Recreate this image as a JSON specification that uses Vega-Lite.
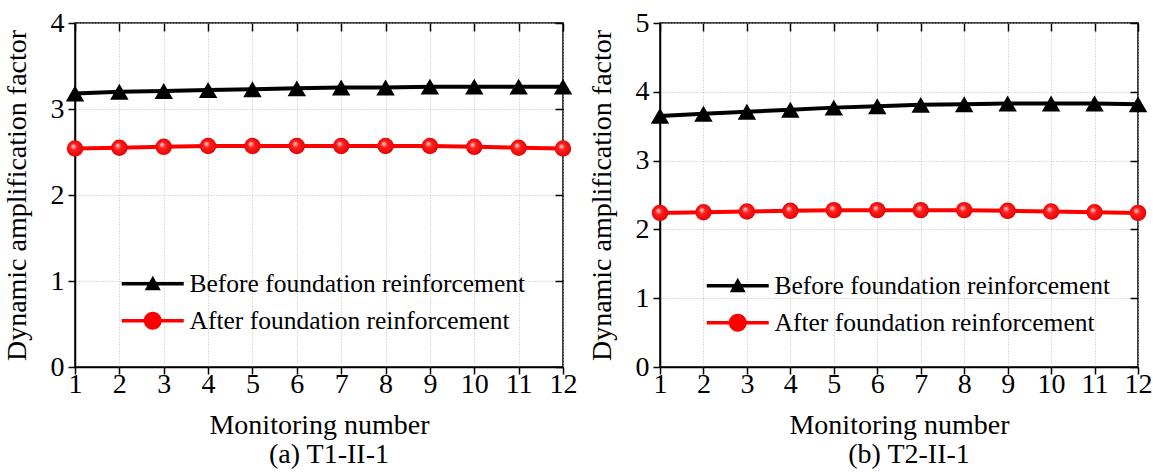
{
  "$schema": "https://vega.github.io/schema/vega-lite/v6.json",
  "background": "white",
  "padding": {"left": 2, "top": 8, "right": 0, "bottom": 0},
  "datasets": {
    "a": [
      {"n": 1, "series": "Before foundation reinforcement", "value": 3.18},
      {"n": 2, "series": "Before foundation reinforcement", "value": 3.2},
      {"n": 3, "series": "Before foundation reinforcement", "value": 3.21},
      {"n": 4, "series": "Before foundation reinforcement", "value": 3.22},
      {"n": 5, "series": "Before foundation reinforcement", "value": 3.23},
      {"n": 6, "series": "Before foundation reinforcement", "value": 3.24},
      {"n": 7, "series": "Before foundation reinforcement", "value": 3.25},
      {"n": 8, "series": "Before foundation reinforcement", "value": 3.25},
      {"n": 9, "series": "Before foundation reinforcement", "value": 3.26},
      {"n": 10, "series": "Before foundation reinforcement", "value": 3.26},
      {"n": 11, "series": "Before foundation reinforcement", "value": 3.26},
      {"n": 12, "series": "Before foundation reinforcement", "value": 3.26},
      {"n": 1, "series": "After foundation reinforcement", "value": 2.54},
      {"n": 2, "series": "After foundation reinforcement", "value": 2.55},
      {"n": 3, "series": "After foundation reinforcement", "value": 2.56},
      {"n": 4, "series": "After foundation reinforcement", "value": 2.57},
      {"n": 5, "series": "After foundation reinforcement", "value": 2.57},
      {"n": 6, "series": "After foundation reinforcement", "value": 2.57},
      {"n": 7, "series": "After foundation reinforcement", "value": 2.57},
      {"n": 8, "series": "After foundation reinforcement", "value": 2.57},
      {"n": 9, "series": "After foundation reinforcement", "value": 2.57},
      {"n": 10, "series": "After foundation reinforcement", "value": 2.56},
      {"n": 11, "series": "After foundation reinforcement", "value": 2.55},
      {"n": 12, "series": "After foundation reinforcement", "value": 2.54}
    ],
    "b": [
      {"n": 1, "series": "Before foundation reinforcement", "value": 3.65},
      {"n": 2, "series": "Before foundation reinforcement", "value": 3.68},
      {"n": 3, "series": "Before foundation reinforcement", "value": 3.71},
      {"n": 4, "series": "Before foundation reinforcement", "value": 3.74},
      {"n": 5, "series": "Before foundation reinforcement", "value": 3.77},
      {"n": 6, "series": "Before foundation reinforcement", "value": 3.79},
      {"n": 7, "series": "Before foundation reinforcement", "value": 3.81},
      {"n": 8, "series": "Before foundation reinforcement", "value": 3.82},
      {"n": 9, "series": "Before foundation reinforcement", "value": 3.83},
      {"n": 10, "series": "Before foundation reinforcement", "value": 3.83},
      {"n": 11, "series": "Before foundation reinforcement", "value": 3.83},
      {"n": 12, "series": "Before foundation reinforcement", "value": 3.82},
      {"n": 1, "series": "After foundation reinforcement", "value": 2.24},
      {"n": 2, "series": "After foundation reinforcement", "value": 2.25},
      {"n": 3, "series": "After foundation reinforcement", "value": 2.26},
      {"n": 4, "series": "After foundation reinforcement", "value": 2.27},
      {"n": 5, "series": "After foundation reinforcement", "value": 2.28},
      {"n": 6, "series": "After foundation reinforcement", "value": 2.28},
      {"n": 7, "series": "After foundation reinforcement", "value": 2.28},
      {"n": 8, "series": "After foundation reinforcement", "value": 2.28},
      {"n": 9, "series": "After foundation reinforcement", "value": 2.27},
      {"n": 10, "series": "After foundation reinforcement", "value": 2.26},
      {"n": 11, "series": "After foundation reinforcement", "value": 2.25},
      {"n": 12, "series": "After foundation reinforcement", "value": 2.24}
    ]
  },
  "bounds": "flush",
  "spacing": 97,
  "resolve": {"scale": {"color": "independent", "x": "independent", "y": "independent"}, "legend": {"color": "independent"}},
  "hconcat": [
    {
      "width": 488,
      "height": 344,
      "data": {"name": "a"},
      "title": {"text": "(a) T1-II-1", "orient": "bottom", "anchor": "middle", "dx": 10, "offset": 2},
      "layer": [
        {
          "encoding": {
            "x": {"field": "n", "type": "quantitative", "scale": {"domain": [1, 12], "nice": false, "zero": false},
                  "axis": {"values": [1,2,3,4,5,6,7,8,9,10,11,12], "title": "Monitoring number", "titleY": 66, "titleBaseline": "alphabetic", "grid": true}},
            "y": {"field": "value", "type": "quantitative", "scale": {"domain": [0, 4], "nice": false},
                  "axis": {"values": [0,1,2,3,4], "format": "d", "title": "Dynamic amplification factor", "titleX": -50, "titleBaseline": "alphabetic", "grid": true}}
          },
          "layer": [
            {
              "mark": {"type": "line", "strokeWidth": 4},
              "encoding": {
                "color": {"field": "series", "type": "nominal",
                  "scale": {"domain": ["Before foundation reinforcement", "After foundation reinforcement"], "range": ["black", "red"]},
                  "legend": {"orient": "none", "legendX": 65, "legendY": 248, "title": null, "padding": 0, "labelLimit": 0,
                    "labelFont": "Liberation Serif", "labelFontSize": 25.5, "labelColor": "black", "symbolSize": 400, "labelOffset": 24, "rowPadding": 10,
                    "encode": {"symbols": {"update": {
                      "shape": {"signal": "datum.value === 'Before foundation reinforcement' ? 'M-3.1,-0.18H3.1V0.18H-3.1Z M-0.8,0.65L0,-0.8L0.8,0.65Z' : 'M-3.1,-0.18H3.1V0.18H-3.1Z M-0.9,0A0.9,0.9 0 1,1 0.9,0A0.9,0.9 0 1,1 -0.9,0Z'"},
                      "fill": {"signal": "datum.value === 'Before foundation reinforcement' ? 'black' : 'red'"},
                      "stroke": {"value": "transparent"},
                      "strokeWidth": {"value": 0},
                      "opacity": {"value": 1}
                    }}}}
                }
              }
            },
            {
              "transform": [{"filter": "datum.series === 'Before foundation reinforcement'"}],
              "mark": {"type": "point", "shape": "triangle-up", "filled": true, "color": "black", "size": 340, "opacity": 1}
            },
            {
              "transform": [{"filter": "datum.series === 'After foundation reinforcement'"}],
              "mark": {"type": "circle", "size": 270, "opacity": 1,
                "fill": {"gradient": "radial", "x1": 0.38, "y1": 0.35, "r1": 0, "x2": 0.5, "y2": 0.5, "r2": 0.55,
                  "stops": [{"offset": 0, "color": "#ffe8e8"}, {"offset": 0.35, "color": "#ff2020"}, {"offset": 1, "color": "#e00000"}]}}
            }
          ]
        },
        {
          "mark": {"type": "point", "opacity": 0},
          "encoding": {
            "x": {"field": "n", "type": "quantitative", "scale": {"domain": [1, 12], "nice": false, "zero": false},
                  "axis": {"orient": "top", "values": [1,2,3,4,5,6,7,8,9,10,11,12], "labels": false, "title": null, "grid": false, "domain": false, "tickSize": 8, "offset": -8}},
            "y": {"field": "value", "type": "quantitative", "scale": {"domain": [0, 4], "nice": false},
                  "axis": {"orient": "right", "values": [0,1,2,3,4], "labels": false, "title": null, "grid": false, "domain": false, "tickSize": 8, "offset": -8}}
          }
        }
      ],
      "resolve": {"axis": {"x": "independent", "y": "independent"}}
    },
    {
      "width": 478,
      "height": 344,
      "data": {"name": "b"},
      "title": {"text": "(b) T2-II-1", "orient": "bottom", "anchor": "middle", "dx": 10, "offset": 2},
      "layer": [
        {
          "encoding": {
            "x": {"field": "n", "type": "quantitative", "scale": {"domain": [1, 12], "nice": false, "zero": false},
                  "axis": {"values": [1,2,3,4,5,6,7,8,9,10,11,12], "title": "Monitoring number", "titleY": 66, "titleBaseline": "alphabetic", "grid": true}},
            "y": {"field": "value", "type": "quantitative", "scale": {"domain": [0, 5], "nice": false},
                  "axis": {"values": [0,1,2,3,4,5], "format": "d", "title": "Dynamic amplification factor", "titleX": -50, "titleBaseline": "alphabetic", "grid": true}}
          },
          "layer": [
            {
              "mark": {"type": "line", "strokeWidth": 4},
              "encoding": {
                "color": {"field": "series", "type": "nominal",
                  "scale": {"domain": ["Before foundation reinforcement", "After foundation reinforcement"], "range": ["black", "red"]},
                  "legend": {"orient": "none", "legendX": 65, "legendY": 250, "title": null, "padding": 0, "labelLimit": 0,
                    "labelFont": "Liberation Serif", "labelFontSize": 25.5, "labelColor": "black", "symbolSize": 400, "labelOffset": 24, "rowPadding": 10,
                    "encode": {"symbols": {"update": {
                      "shape": {"signal": "datum.value === 'Before foundation reinforcement' ? 'M-3.1,-0.18H3.1V0.18H-3.1Z M-0.8,0.65L0,-0.8L0.8,0.65Z' : 'M-3.1,-0.18H3.1V0.18H-3.1Z M-0.9,0A0.9,0.9 0 1,1 0.9,0A0.9,0.9 0 1,1 -0.9,0Z'"},
                      "fill": {"signal": "datum.value === 'Before foundation reinforcement' ? 'black' : 'red'"},
                      "stroke": {"value": "transparent"},
                      "strokeWidth": {"value": 0},
                      "opacity": {"value": 1}
                    }}}}
                }
              }
            },
            {
              "transform": [{"filter": "datum.series === 'Before foundation reinforcement'"}],
              "mark": {"type": "point", "shape": "triangle-up", "filled": true, "color": "black", "size": 340, "opacity": 1}
            },
            {
              "transform": [{"filter": "datum.series === 'After foundation reinforcement'"}],
              "mark": {"type": "circle", "size": 270, "opacity": 1,
                "fill": {"gradient": "radial", "x1": 0.38, "y1": 0.35, "r1": 0, "x2": 0.5, "y2": 0.5, "r2": 0.55,
                  "stops": [{"offset": 0, "color": "#ffe8e8"}, {"offset": 0.35, "color": "#ff2020"}, {"offset": 1, "color": "#e00000"}]}}
            }
          ]
        },
        {
          "mark": {"type": "point", "opacity": 0},
          "encoding": {
            "x": {"field": "n", "type": "quantitative", "scale": {"domain": [1, 12], "nice": false, "zero": false},
                  "axis": {"orient": "top", "values": [1,2,3,4,5,6,7,8,9,10,11,12], "labels": false, "title": null, "grid": false, "domain": false, "tickSize": 8, "offset": -8}},
            "y": {"field": "value", "type": "quantitative", "scale": {"domain": [0, 5], "nice": false},
                  "axis": {"orient": "right", "values": [0,1,2,3,4,5], "labels": false, "title": null, "grid": false, "domain": false, "tickSize": 8, "offset": -8}}
          }
        }
      ],
      "resolve": {"axis": {"x": "independent", "y": "independent"}}
    }
  ],
  "config": {
    "font": "Liberation Serif",
    "view": {"stroke": "black", "strokeWidth": 1.5},
    "title": {"font": "Liberation Serif", "fontSize": 28, "fontWeight": "normal", "color": "black"},
    "legend": {"labelFontSize": 25.5, "labelFont": "Liberation Serif", "labelLimit": 0},
    "axis": {
      "labelFont": "Liberation Serif", "labelFontSize": 28, "labelColor": "black",
      "titleFont": "Liberation Serif", "titleFontWeight": "normal", "titleColor": "black",
      "domainColor": "black", "domainWidth": 1.5, "tickColor": "black", "tickWidth": 1.5, "tickSize": 7,
      "gridColor": "#bdbdbd", "gridDash": [1, 2], "gridWidth": 1
    },
    "axisX": {"labelPadding": -4, "titleFontSize": 28, "labelFlush": false, "labelFontSize": 28},
    "axisY": {"labelPadding": 4, "titleFontSize": 28, "labelFontSize": 28}
  }
}
